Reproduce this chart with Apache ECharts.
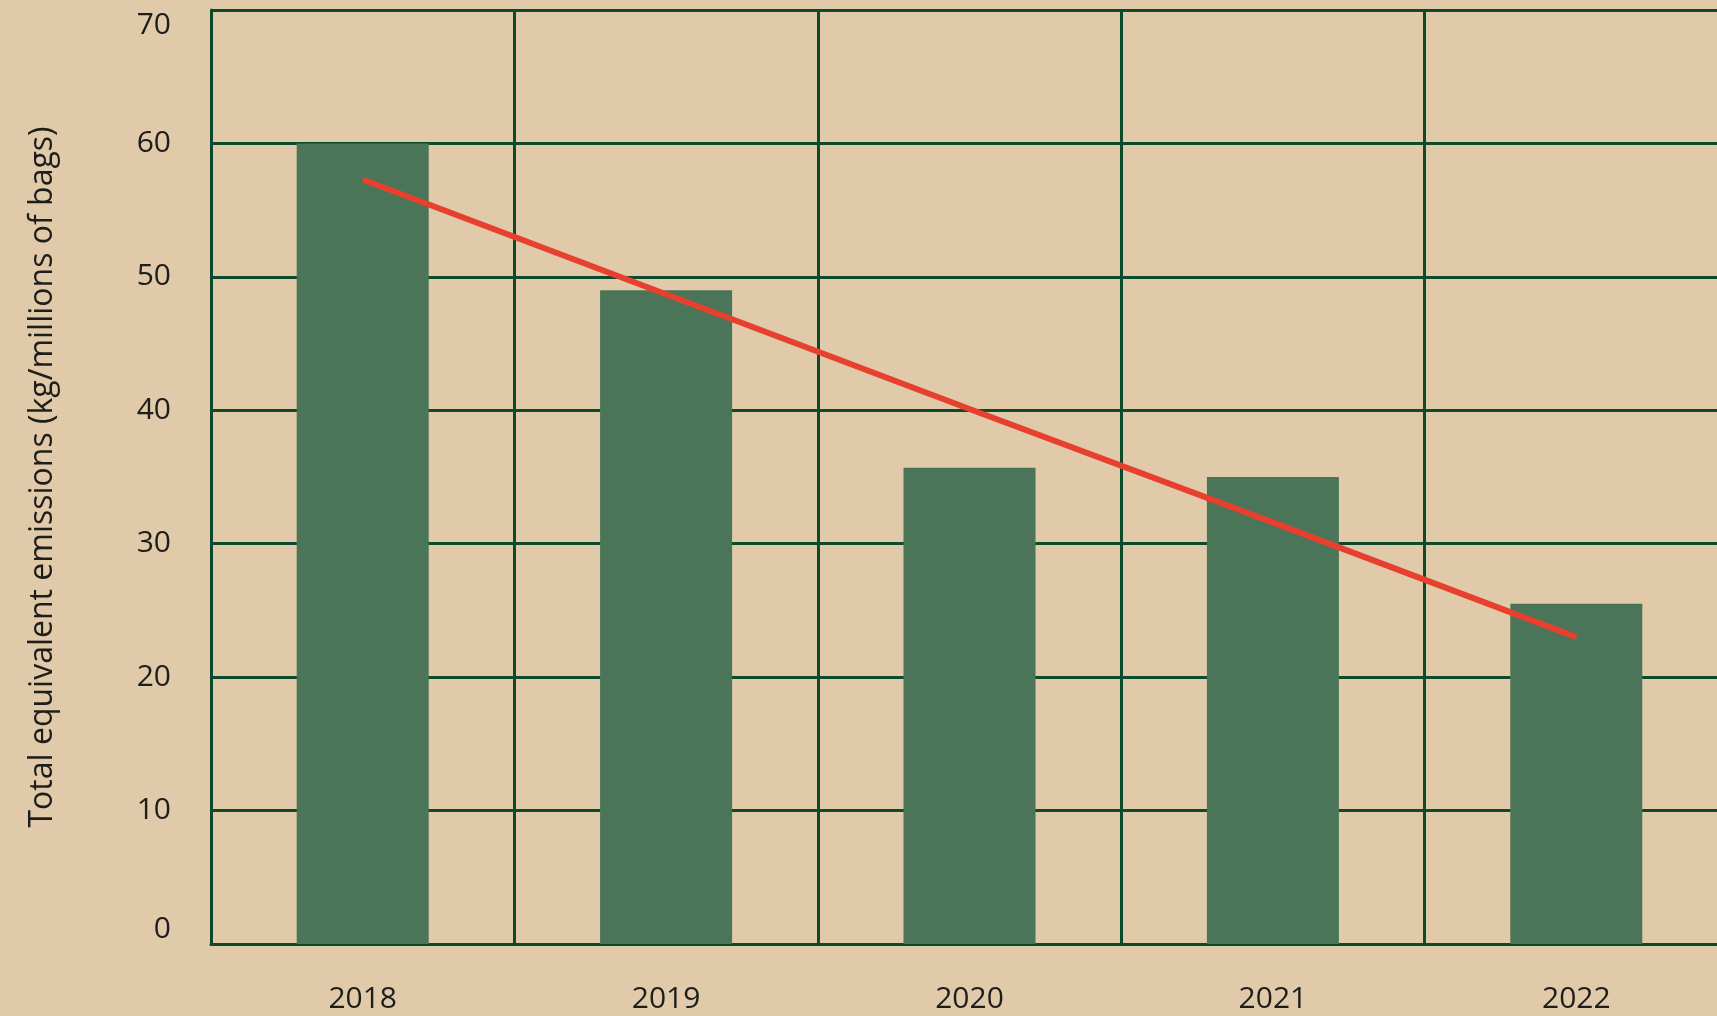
<!DOCTYPE html>
<html>
<head>
<meta charset="utf-8">
<title>Total equivalent emissions</title>
<script src="https://cdn.jsdelivr.net/npm/echarts@6/dist/echarts.min.js"></script>
<style>
  html, body { margin: 0; padding: 0; background: #e1caa9; overflow: hidden; }
  #chart { width: 1717px; height: 1016px; }
</style>
</head>
<body>
<div id="chart"></div>
<script>
  // values
  const years = ['2018', '2019', '2020', '2021', '2022'];
  const emissions = [60, 49, 35.7, 35, 25.5];
  const trend = [57.3, 48.7, 40.1, 31.6, 23.0];

  const gridGreen = '#0b4a2c';
  const textColor = '#1d1d1b';

  let myChart = echarts.init(document.getElementById('chart'));
  let option = {
    backgroundColor: '#e1caa9',
    textStyle: { fontFamily: 'Open Sans' },
    // plot runs past the right edge of the page, like the original
    grid: { left: 211, top: 10, width: 1517, height: 934, outerBoundsMode: 'none' },
    xAxis: {
      type: 'category',
      data: years,
      boundaryGap: true,
      axisLine: { show: true, lineStyle: { color: gridGreen, width: 3 } },
      axisTick: { show: false },
      splitLine: { show: true, lineStyle: { color: gridGreen, width: 3 } },
      axisLabel: { color: textColor, fontSize: 30, margin: 40 }
    },
    yAxis: {
      type: 'value',
      min: 0,
      max: 70,
      interval: 10,
      name: 'Total equivalent emissions (kg/millions of bags)',
      nameLocation: 'middle',
      nameGap: 152,
      nameTextStyle: { color: textColor, fontSize: 32 },
      axisLine: { show: true, lineStyle: { color: gridGreen, width: 3 } },
      axisTick: { show: false },
      splitLine: { show: true, lineStyle: { color: gridGreen, width: 3 } },
      axisLabel: {
        color: textColor,
        fontSize: 30,
        margin: 40,
        verticalAlignMaxLabel: 'top',
        verticalAlignMinLabel: 'bottom'
      }
    },
    series: [
      {
        name: 'Emissions',
        type: 'bar',
        data: emissions,
        barWidth: 132,
        itemStyle: { color: '#4a7558' },
        z: 1
      },
      {
        name: 'Trend',
        type: 'line',
        data: trend,
        symbol: 'none',
        lineStyle: { color: '#e8402f', width: 6 },
        z: 3
      }
    ]
  };
  myChart.setOption(option);
  window.addEventListener('resize', () => { myChart.resize() });
</script>
</body>
</html>
